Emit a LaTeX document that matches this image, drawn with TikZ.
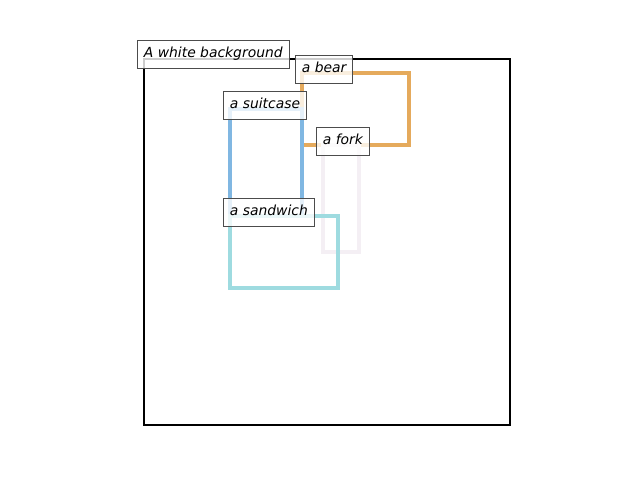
\documentclass[tikz,border=0pt]{standalone}
\usepackage{fontspec}
\setmainfont{DejaVu Sans}
\begin{document}
\begin{tikzpicture}[x=0.72pt,y=-0.72pt,
  bbox/.style={line width=2.2pt,line join=miter},
  lab/.style={draw=black!70,line width=0.72pt,fill=white,fill opacity=0.8,text opacity=1,
    font=\itshape\fontsize{10pt}{12pt}\selectfont,inner xsep=4.6pt,inner ysep=0pt,
    minimum height=20.16pt,text height=7.6pt,text depth=2.2pt,anchor=west}]
\useasboundingbox (0,0) rectangle (640,480);
\definecolor{cbear}{RGB}{229,170,92}
\definecolor{csuit}{RGB}{128,183,226}
\definecolor{cfork}{RGB}{244,239,244}
\definecolor{csand}{RGB}{158,219,224}
\draw[bbox,black,line width=1.6pt] (144,59) rectangle (510,425);
\draw[bbox,cbear] (302,73) rectangle (409,145);
\draw[bbox,csuit] (230,109) rectangle (302,216);
\draw[bbox,cfork] (323,145) rectangle (359,252);
\draw[bbox,csand] (230,216) rectangle (338,288);
\node[lab] (bg) at (137,54) {A white background};
\node[lab] (bear) at (295,69) {a bear};
\node[lab] (suit) at (223,105) {a suitcase};
\node[lab] (fork) at (316,141) {a fork};
\node[lab] (sand) at (223,212) {a sandwich};
\end{tikzpicture}
\end{document}
